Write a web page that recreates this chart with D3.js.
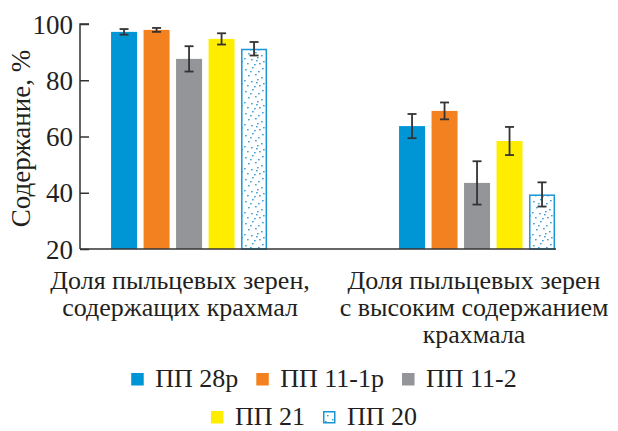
<!DOCTYPE html>
<html>
<head>
<meta charset="utf-8">
<script src="https://cdn.jsdelivr.net/npm/d3@7"></script>
</head>
<body style="margin:0">
<svg id="fig" width="618" height="431"></svg>
<script>
// ---- Data ----
const categories = ["Доля пыльцевых зерен, содержащих крахмал", "Доля пыльцевых зерен с высоким содержанием крахмала"];
const categoryLines = [
  ["Доля пыльцевых зерен,", "содержащих  крахмал"],
  ["Доля пыльцевых зерен", "с высоким содержанием", "крахмала"]
];
const series = ["ПП 28р", "ПП 11-1р", "ПП 11-2", "ПП 21", "ПП 20"];
const values = {
  "ПП 28р":   [97.2, 63.7],
  "ПП 11-1р": [97.9, 69.1],
  "ПП 11-2":  [87.6, 43.5],
  "ПП 21":    [94.7, 58.4],
  "ПП 20":    [91.2, 39.4]
};
const errors = {
  "ПП 28р":   [1.0, 4.3],
  "ПП 11-1р": [0.7, 3.0],
  "ПП 11-2":  [4.5, 7.7],
  "ПП 21":    [2.0, 5.0],
  "ПП 20":    [2.4, 4.3]
};
const yTicks = [20, 40, 60, 80, 100];
const yLabel = "Содержание, %";
const colors = ["#0096d6", "#f38120", "#939598", "#ffed00", "stipple"];

// ---- Layout ----
const FONT = "'Liberation Serif'";
const TXT = "#231f20";
const svg = d3.select("#fig");
const plotLeft = 80, plotRight = 556, plotTop = 24, plotBottom = 249;

const y = d3.scaleLinear().domain([20, 100]).range([plotBottom, plotTop]);
const x0 = d3.scaleBand().domain(categories).range([plotLeft, plotRight])
  .paddingInner(0.4583).paddingOuter(0.0556).align(0.97);
const x1 = d3.scaleBand().domain(series).range([0, x0.bandwidth()]).paddingInner(0.2).paddingOuter(0);
const color = d3.scaleOrdinal().domain(series).range(colors);

function txt(sel, size) {
  return sel.attr("font-family", FONT).attr("font-size", size).attr("fill", TXT);
}

// stipple pattern
const defs = svg.append("defs");
const pat = defs.append("pattern").attr("id", "stip").attr("patternUnits", "userSpaceOnUse")
  .attr("width", 22).attr("height", 22);
pat.append("rect").attr("width", 22).attr("height", 22).attr("fill", "#fff");
const dots = [[2,3],[9,1],[15,5],[19,2],[5,9],[12,8],[18,11],[1,14],[8,15],[14,13],[20,17],[4,19],[11,20],[16,19],[7,5],[13,16]];
pat.selectAll("rect.d").data(dots).join("rect").attr("class", "d")
  .attr("x", d => d[0]).attr("y", d => d[1]).attr("width", 1.6).attr("height", 1.4).attr("fill", "#3a9bd5");

const fillOf = s => color(s) === "stipple" ? "url(#stip)" : color(s);

// bars
const groups = svg.append("g").selectAll("g").data(categories).join("g")
  .attr("transform", c => `translate(${x0(c)},0)`);

groups.each(function(c, ci) {
  const g = d3.select(this);
  series.forEach(s => {
    const v = values[s][ci];
    const isStip = color(s) === "stipple";
    g.append("rect")
      .attr("x", x1(s) + (isStip ? 0.75 : 0))
      .attr("y", y(v) + (isStip ? 0.75 : 0))
      .attr("width", x1.bandwidth() - (isStip ? 1.5 : 0))
      .attr("height", y(20) - y(v) - (isStip ? 0.75 : 0))
      .attr("fill", fillOf(s))
      .attr("stroke", isStip ? "#1a96d6" : "none")
      .attr("stroke-width", isStip ? 1.5 : 0);
  });
  series.forEach(s => {
    const v = values[s][ci], e = errors[s][ci];
    const cx = x1(s) + x1.bandwidth() / 2;
    const eg = g.append("g").attr("stroke", "#333").attr("stroke-width", 1.8);
    eg.append("line").attr("x1", cx).attr("x2", cx).attr("y1", y(v + e)).attr("y2", y(v - e));
    eg.append("line").attr("x1", cx - 4.5).attr("x2", cx + 4.5).attr("y1", y(v + e)).attr("y2", y(v + e));
    eg.append("line").attr("x1", cx - 4.5).attr("x2", cx + 4.5).attr("y1", y(v - e)).attr("y2", y(v - e));
  });
});

// y axis
const yAxis = d3.axisRight(y).tickValues(yTicks).tickSize(9).tickFormat(d3.format("d"));
const ya = svg.append("g").attr("transform", `translate(${plotLeft},0)`).call(yAxis)
  .attr("font-family", FONT).attr("font-size", 27);
ya.select(".domain").attr("d", `M9,${plotTop}H0V${plotBottom}`).attr("stroke", "#333").attr("stroke-width", 1.5);
ya.selectAll(".tick line").attr("stroke", "#333").attr("stroke-width", 1.5);
txt(ya.selectAll(".tick text"), 27).attr("x", -7).attr("text-anchor", "end").attr("dy", "0.34em");

// x axis line
const xAxis = d3.axisBottom(x0).tickSize(0).tickFormat("");
const xa = svg.append("g").attr("transform", `translate(0,${plotBottom})`).call(xAxis);
xa.select(".domain").attr("d", `M${plotLeft},0H${plotRight}`).attr("stroke", "#333").attr("stroke-width", 1.5);

// category labels
const labelShift = [-9, -3];
categories.forEach((c, i) => {
  const cx = x0(c) + x0.bandwidth() / 2 + labelShift[i];
  const t = txt(svg.append("text"), 26).attr("text-anchor", "middle");
  categoryLines[i].forEach((ln, k) => {
    t.append("tspan").attr("x", cx).attr("y", 289 + k * 27).text(ln);
  });
});

// y label
txt(svg.append("text"), 27)
  .attr("transform", `translate(30,${(plotTop + plotBottom) / 2 + 2}) rotate(-90)`)
  .attr("text-anchor", "middle").text(yLabel);

// legend
const legendRows = [series.slice(0, 3), series.slice(3)];
const rowY = [379, 417];
const rowCenter = [324, 314];
legendRows.forEach((row, ri) => {
  const lg = svg.append("g");
  let xpos = 0;
  row.forEach((s) => {
    const it = lg.append("g").attr("transform", `translate(${xpos},0)`);
    const isStip = color(s) === "stipple";
    it.append("rect").attr("x", isStip ? 0.75 : 0).attr("y", rowY[ri] - 6 + (isStip ? 0.75 : 0))
      .attr("width", isStip ? 11 : 12.5).attr("height", isStip ? 11 : 12.5)
      .attr("fill", fillOf(s)).attr("stroke", isStip ? "#1a96d6" : "none").attr("stroke-width", 1.5);
    const tx = txt(it.append("text"), 26).attr("x", 24).attr("y", rowY[ri] + 7.5).text(s);
    const w = tx.node().getComputedTextLength();
    xpos += 24 + w + 18;
  });
  const total = xpos - 18;
  lg.attr("transform", `translate(${rowCenter[ri] - total / 2},0)`);
});
</script>
</body>
</html>
